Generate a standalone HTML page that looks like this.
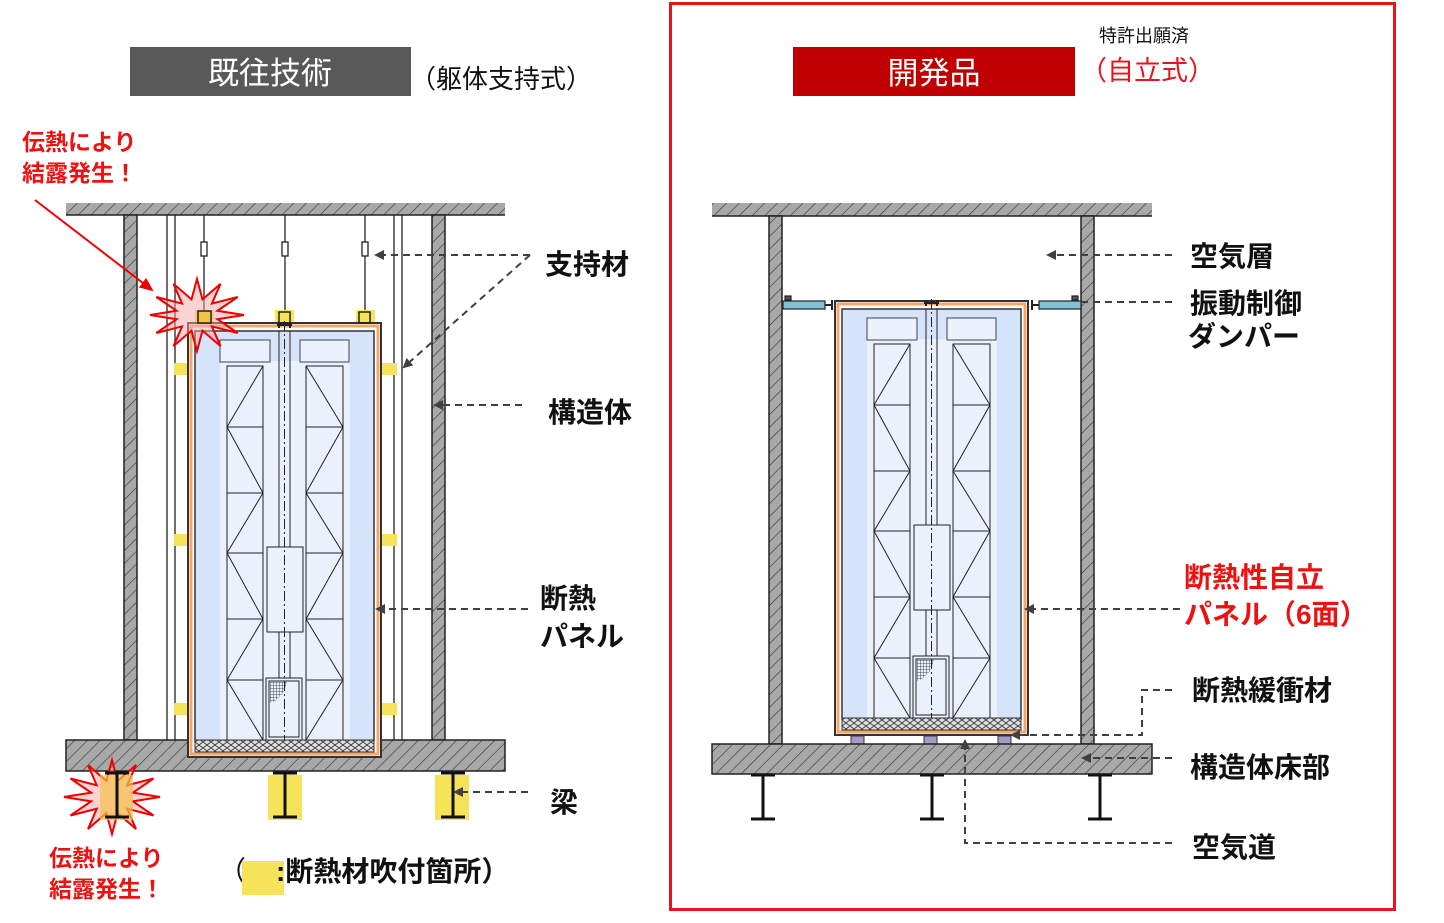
<!DOCTYPE html>
<html><head><meta charset="utf-8"><style>
html,body{margin:0;padding:0;background:#fff;}
svg{display:block;}
text{font-family:"Liberation Sans","Noto Sans CJK JP",sans-serif;}
</style></head><body>
<svg width="1444" height="923" viewBox="0 0 1444 923" xmlns="http://www.w3.org/2000/svg">
<defs>
<pattern id="h" width="9" height="9" patternUnits="userSpaceOnUse" patternTransform="rotate(45)">
<rect width="9" height="9" fill="#a8a8a8"/><line x1="0" y1="0" x2="0" y2="9" stroke="#333" stroke-width="1.2"/>
</pattern>
<pattern id="m" width="8" height="6" patternUnits="userSpaceOnUse">
<rect width="8" height="6" fill="#ddd"/><path d="M0 3 L4 0 L8 3 L4 6Z" fill="none" stroke="#333" stroke-width="0.8"/>
</pattern>
<pattern id="g" width="3" height="3" patternUnits="userSpaceOnUse">
<path d="M0 0H3M0 0V3" stroke="#222" stroke-width="0.8"/>
</pattern>
<marker id="a" markerWidth="10" markerHeight="10" refX="8" refY="5" orient="auto" markerUnits="userSpaceOnUse">
<path d="M0 0L10 5L0 10Z" fill="#404040"/></marker>
<marker id="r" markerWidth="14" markerHeight="12" refX="12" refY="6" orient="auto" markerUnits="userSpaceOnUse">
<path d="M0 0L14 6L0 12Z" fill="#e00"/></marker>
<clipPath id="cl"><rect x="-10" y="404" width="200" height="30"/></clipPath>
<g id="car">
<rect x="-7" y="-8" width="193" height="434" fill="#fff" stroke="#333" stroke-width="2"/>
<rect x="-4" y="-5" width="187" height="428" fill="none" stroke="#f5a66a" stroke-width="3"/>
<rect x="0" y="0" width="179" height="410" fill="#d6e4fb" stroke="#333" stroke-width="1.5"/>
<rect x="25" y="30" width="130" height="380" fill="#eaf1fd"/>
<rect x="25" y="9" width="50" height="22" fill="#eaf1fd" stroke="#444"/>
<rect x="105" y="9" width="49" height="22" fill="#eaf1fd" stroke="#444"/>
<g fill="none" stroke="#222" stroke-width="1">
<rect x="32" y="35" width="36" height="374"/>
<rect x="111" y="35" width="37" height="374"/>
<path d="M32 96H68M32 162H68M32 222H68M32 288H68M32 349H68"/>
<path d="M111 96H148M111 162H148M111 222H148M111 288H148M111 349H148"/>
<polyline points="68,35 32,96 68,162 32,222 68,288 32,349 68,409"/>
<polyline points="111,35 148,96 111,162 148,222 111,288 148,349 111,409"/>
<path d="M84 0V216M95 0V216M84 301V347M95 301V347"/>
<rect x="72" y="216" width="36" height="85" fill="#eaf1fd"/>
<rect x="71" y="347" width="36" height="62" fill="#eaf1fd"/>
<rect x="74" y="350" width="30" height="56"/>
<path d="M89.5 -10V420" stroke-dasharray="10 3 2 3"/>
<path d="M82 -6H97M84 -9V-3M95 -9V-3" stroke-width="2"/>
</g>
<path d="M75 351H92L88 362L80 370L75 372Z" fill="url(#g)"/>
<rect x="0" y="409" width="179" height="12" fill="url(#m)" stroke="#333"/>
</g>
<polygon id="star" points="1,0 .435,.117 .866,.5 .318,.318 .5,.866 .117,.435 0,1 -.117,.435 -.5,.866 -.318,.318 -.866,.5 -.435,.117 -1,0 -.435,-.117 -.866,-.5 -.318,-.318 -.5,-.866 -.117,-.435 0,-1 .117,-.435 .5,-.866 .318,-.318 .866,-.5 .435,-.117" fill="rgba(245,170,170,0.5)" stroke="#e00" stroke-width="2" vector-effect="non-scaling-stroke"/>
<g id="beam"><path d="M-12 0H12M-12 44H12" stroke="#111" stroke-width="3"/><path d="M0 0V44" stroke="#111" stroke-width="3"/></g>
</defs>

<rect x="670.5" y="3.5" width="724" height="906" fill="none" stroke="#e8141c" stroke-width="3"/>

<rect x="130" y="47" width="281" height="49" fill="#595959"/>
<text x="270" y="84" font-size="31" fill="#fff" text-anchor="middle">既往技術</text>
<text x="410" y="88" font-size="26" fill="#111">（躯体支持式）</text>
<rect x="793" y="47" width="282" height="49" fill="#c00000"/>
<text x="934" y="84" font-size="31" fill="#fff" text-anchor="middle">開発品</text>
<text x="1099" y="42" font-size="18" fill="#111">特許出願済</text>
<text x="1080" y="80" font-size="27" fill="#e8141c">（自立式）</text>

<!-- LEFT -->
<rect x="66" y="203" width="439" height="12" fill="url(#h)"/>
<line x1="66" y1="215" x2="505" y2="215" stroke="#222" stroke-width="1.5"/>
<rect x="124" y="215" width="13" height="525" fill="url(#h)" stroke="#222" stroke-width="1.5"/>
<rect x="432" y="215" width="13" height="525" fill="url(#h)" stroke="#222" stroke-width="1.5"/>
<g stroke="#222" stroke-width="1.3">
<path d="M167 215V740M175 215V740M394 215V740M402 215V740"/>
<path d="M204 215V318M285 215V318M365 215V318"/>
</g>
<g fill="#fff" stroke="#222" stroke-width="1.3">
<rect x="201" y="242" width="6" height="14"/><rect x="282" y="242" width="6" height="14"/><rect x="362" y="242" width="6" height="14"/>
</g>
<g fill="#f7e35a">
<rect x="195" y="310" width="19" height="14"/><rect x="275" y="310" width="19" height="14"/><rect x="356" y="310" width="19" height="14"/>
<rect x="174" y="363" width="17" height="12"/><rect x="174" y="534" width="17" height="12"/><rect x="174" y="703" width="17" height="12"/>
<rect x="379" y="363" width="18" height="12"/><rect x="379" y="534" width="18" height="12"/><rect x="379" y="703" width="18" height="12"/>
<rect x="268" y="775" width="34" height="45"/><rect x="435" y="775" width="34" height="45"/>
</g>
<use href="#car" transform="translate(195,331)"/>
<g fill="none" stroke="#222" stroke-width="1.5">
<rect x="199" y="312" width="11" height="11"/><rect x="279" y="312" width="11" height="11"/><rect x="359" y="312" width="11" height="11"/>
</g>
<rect x="66" y="740" width="439" height="31" fill="url(#h)" stroke="#222" stroke-width="1.5"/>
<use href="#car" transform="translate(195,331)" clip-path="url(#cl)"/>
<use href="#star" transform="translate(112,797) scale(48,37)"/>
<rect x="100" y="775" width="33" height="45" fill="#f7c048" opacity="0.7"/>
<use href="#beam" transform="translate(117,773)"/>
<use href="#beam" transform="translate(285,773)"/>
<use href="#beam" transform="translate(453,773)"/>
<use href="#star" transform="translate(197,315) scale(47,36)"/>
<rect x="198" y="311" width="13" height="12" fill="#f7c048" stroke="#222" stroke-width="1.5"/>
<line x1="35" y1="200" x2="152" y2="290" stroke="#e00" stroke-width="2" marker-end="url(#r)"/>

<g stroke="#404040" stroke-width="2" stroke-dasharray="7 5" fill="none">
<line x1="530" y1="255" x2="376" y2="255" marker-end="url(#a)"/>
<line x1="530" y1="255" x2="404" y2="367" marker-end="url(#a)"/>
<line x1="522" y1="405" x2="435" y2="405" marker-end="url(#a)"/>
<line x1="528" y1="609" x2="377" y2="609" marker-end="url(#a)"/>
<line x1="528" y1="792" x2="455" y2="792" marker-end="url(#a)"/>
</g>
<g font-size="28" font-weight="bold" fill="#111">
<text x="545" y="274">支持材</text>
<text x="548" y="422">構造体</text>
<text x="540" y="608">断熱</text>
<text x="540" y="646">パネル</text>
<text x="550" y="812">梁</text>
</g>
<g font-size="23" font-weight="bold" fill="#ee1111">
<text x="22" y="150">伝熱により</text>
<text x="22" y="181">結露発生！</text>
<text x="49" y="866">伝熱により</text>
<text x="49" y="897">結露発生！</text>
</g>
<text x="218" y="881" font-size="28" fill="#111">（</text>
<rect x="242" y="861" width="42" height="34" fill="#f7e35a"/>
<text x="276" y="881" font-size="28" font-weight="bold" fill="#111">:断熱材吹付箇所）</text>

<!-- RIGHT -->
<rect x="712" y="203" width="440" height="13" fill="url(#h)"/>
<line x1="712" y1="216" x2="1152" y2="216" stroke="#222" stroke-width="1.5"/>
<rect x="769" y="216" width="13" height="528" fill="url(#h)" stroke="#222" stroke-width="1.5"/>
<rect x="1081" y="216" width="13" height="528" fill="url(#h)" stroke="#222" stroke-width="1.5"/>
<use href="#car" transform="translate(842,309)"/>
<g stroke="#222" stroke-width="1.2">
<rect x="783" y="301" width="42" height="8" fill="#7ec4d6"/>
<rect x="1039" y="301" width="42" height="8" fill="#7ec4d6"/>
<path d="M825 305H832M1032 305H1039M832 300V310M1032 300V310" stroke-width="2"/>
<rect x="785" y="296" width="6" height="4" fill="#555"/><rect x="1072" y="296" width="6" height="4" fill="#555"/>
</g>
<g fill="#a898c8" stroke="#333">
<rect x="851" y="736" width="13" height="8"/><rect x="924" y="736" width="13" height="8"/><rect x="998" y="736" width="13" height="8"/>
</g>
<rect x="712" y="744" width="440" height="30" fill="url(#h)" stroke="#222" stroke-width="1.5"/>
<use href="#beam" transform="translate(763,775)"/>
<use href="#beam" transform="translate(932,775)"/>
<use href="#beam" transform="translate(1100,775)"/>

<g stroke="#404040" stroke-width="2" stroke-dasharray="7 5" fill="none">
<line x1="1172" y1="255" x2="1048" y2="255" marker-end="url(#a)"/>
<line x1="1172" y1="302" x2="1080" y2="302"/>
<line x1="1180" y1="609" x2="1026" y2="609" marker-end="url(#a)"/>
<polyline points="1172,690 1142,690 1142,735 1012,735" marker-end="url(#a)"/>
<line x1="1172" y1="758" x2="1083" y2="758" marker-end="url(#a)"/>
<polyline points="1172,843 965,843 965,741" marker-end="url(#a)"/>
</g>
<g font-size="28" font-weight="bold" fill="#111">
<text x="1190" y="266">空気層</text>
<text x="1190" y="313">振動制御</text>
<text x="1188" y="346">ダンパー</text>
<text x="1192" y="700">断熱緩衝材</text>
<text x="1190" y="777">構造体床部</text>
<text x="1192" y="857">空気道</text>
</g>
<g font-size="28" font-weight="bold" fill="#ee1111">
<text x="1184" y="587">断熱性自立</text>
<text x="1184" y="624">パネル（6面）</text>
</g>
</svg>
</body></html>
